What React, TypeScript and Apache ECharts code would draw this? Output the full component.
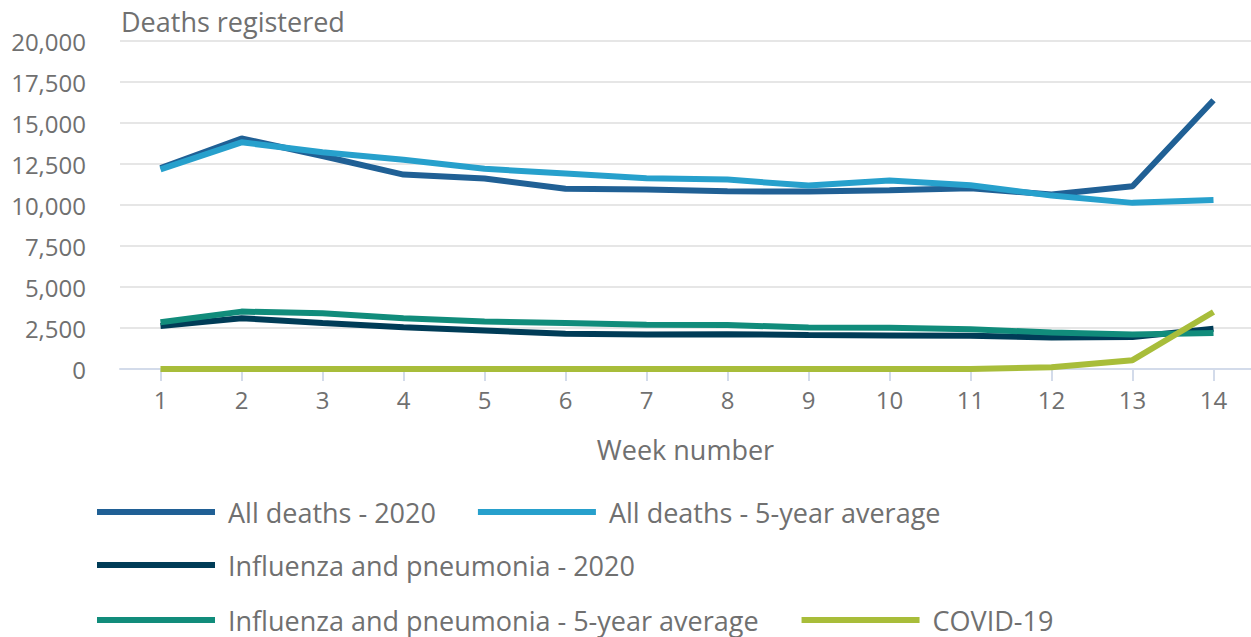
import React, { useEffect, useRef } from "react";
import * as echarts from "echarts";

const weeks = [1, 2, 3, 4, 5, 6, 7, 8, 9, 10, 11, 12, 13, 14];
const allDeaths2020 = [12254, 14058, 12990, 11856, 11612, 10986, 10944, 10841, 10816, 10895, 11019, 10645, 11141, 16387];
const allDeaths5yr = [12175, 13822, 13216, 12760, 12206, 11925, 11627, 11548, 11183, 11498, 11205, 10573, 10130, 10305];
const flu2020 = [2620, 3100, 2800, 2550, 2350, 2150, 2100, 2120, 2080, 2050, 2020, 1920, 1950, 2450];
const flu5yr = [2850, 3500, 3400, 3100, 2900, 2800, 2700, 2680, 2530, 2520, 2420, 2230, 2100, 2200];
const covid = [0, 0, 0, 0, 0, 0, 0, 0, 0, 0, 5, 103, 539, 3475];

const names = [
  "All deaths - 2020",
  "All deaths - 5-year average",
  "Influenza and pneumonia - 2020",
  "Influenza and pneumonia - 5-year average",
  "COVID-19",
];
const colors = ["#206095", "#27a0cc", "#003c57", "#118c7b", "#a8bd3a"];
const seriesData = [allDeaths2020, allDeaths5yr, flu2020, flu5yr, covid];

const FONT = "'Open Sans', sans-serif";
const TEXT = "#707070";

export default function App() {
  const ref = useRef<HTMLDivElement>(null);
  useEffect(() => {
    document.body.style.margin = "0";
    const chart = echarts.init(ref.current!, null, { renderer: "svg" });
    const legendBase = {
      left: 97,
      padding: 0,
      orient: "horizontal" as const,
      icon: "rect",
      itemWidth: 118,
      itemHeight: 6,
      textStyle: { fontFamily: FONT, fontSize: 27, lineHeight: 28, color: TEXT, padding: [0, 0, 0, 8] },
      selectedMode: false,
    };
    chart.setOption({
      animation: false,
      color: colors,
      title: {
        text: "Deaths registered",
        left: 121,
        top: 8,
        padding: 0,
        textStyle: { fontFamily: FONT, fontSize: 27, fontWeight: "normal", color: TEXT },
      },
      grid: { left: 120, top: 41, right: 0, bottom: 268, containLabel: false },
      legend: [
        { ...legendBase, top: 498, itemGap: 42, data: [names[0], names[1]] },
        { ...legendBase, top: 551, itemGap: 42, data: [names[2]] },
        { ...legendBase, top: 606, itemGap: 43, data: [names[3], names[4]] },
      ],
      xAxis: {
        type: "value",
        min: 0.5,
        max: 0.5 + 1131 / 81,
        name: "Week number",
        nameLocation: "middle",
        nameGap: 67,
        nameTextStyle: { fontFamily: FONT, fontSize: 27, color: TEXT },
        splitLine: { show: false },
        axisLine: { show: true, onZero: false, lineStyle: { color: "#d3dbea", width: 2 } },
        axisTick: { show: true, customValues: weeks, length: 12, lineStyle: { color: "#d3dbea", width: 2 } },
        axisLabel: {
          customValues: weeks,
          fontFamily: FONT,
          fontSize: 24,
          color: TEXT,
          margin: 18,
          showMinLabel: true,
          showMaxLabel: true,
        },
      },
      yAxis: {
        type: "value",
        min: 0,
        max: 20000,
        interval: 2500,
        axisLine: { show: false },
        axisTick: { show: false },
        axisLabel: {
          fontFamily: FONT,
          fontSize: 24,
          color: TEXT,
          margin: 34,
          formatter: (v: number) => v.toLocaleString("en-US"),
        },
        splitLine: { lineStyle: { color: "#e6e6e6", width: 2 } },
      },
      series: names.map((n, i) => ({
        name: n,
        type: "line",
        data: seriesData[i].map((v, j) => [weeks[j], v]),
        symbol: "none",
        lineStyle: { width: 6, color: colors[i] },
        itemStyle: { color: colors[i] },
      })),
    });
    return () => chart.dispose();
  }, []);
  return <div ref={ref} style={{ width: 1251, height: 637 }} />;
}
